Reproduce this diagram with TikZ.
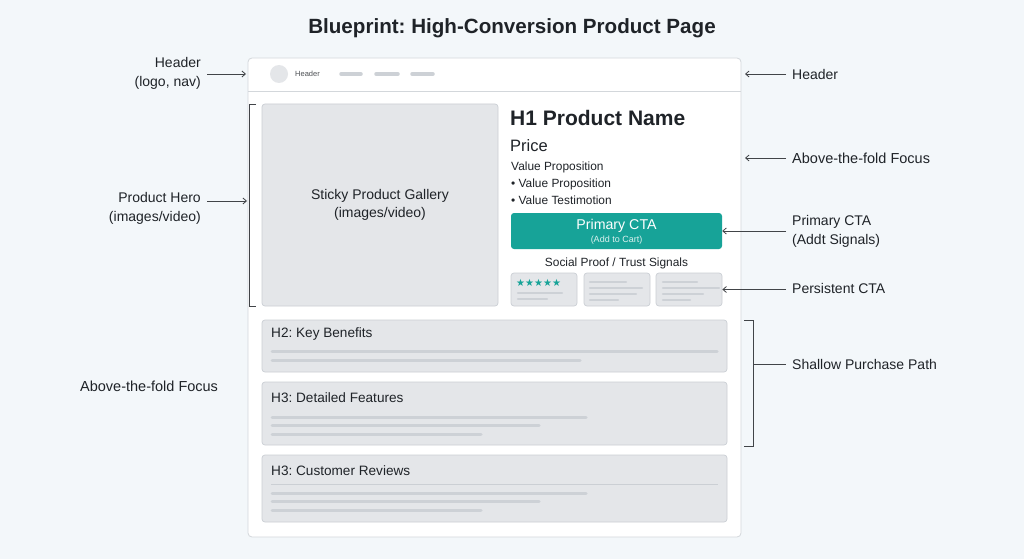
\documentclass[tikz,border=0pt]{standalone}
\usepackage{fontspec}
\setmainfont{Liberation Sans}
\newfontfamily\symfont{DejaVu Sans}
\usetikzlibrary{arrows.meta}
\definecolor{bg}{HTML}{F3F7FA}
\definecolor{ink}{HTML}{1F2328}
\definecolor{framec}{HTML}{D3D7DB}
\definecolor{boxfill}{HTML}{E4E6E9}
\definecolor{boxline}{HTML}{CBCFD4}
\definecolor{barc}{HTML}{CDD1D6}
\definecolor{tealc}{HTML}{17A398}
\newcommand{\fsz}[1]{\fontsize{#1}{#1}\selectfont\baselineskip=1.25\baselineskip}
\frenchspacing
\begin{document}
\begin{tikzpicture}[x=1pt,y=-1pt,
  box/.style={draw=boxline, fill=boxfill, rounded corners=3pt, line width=0.7pt, inner sep=0pt},
  ann/.style={text=ink, font=\fontsize{14}{19}\selectfont, align=left, anchor=west, inner sep=0pt},
  annr/.style={text=ink, font=\fontsize{14}{19}\selectfont, align=right, anchor=east, inner sep=0pt},
  conn/.style={draw=ink!85, line width=0.8pt, -{Straight Barb[length=3.5pt,width=6pt]}},
  plain/.style={draw=ink!85, line width=0.8pt},
  bar/.style={draw=barc, line width=3pt, line cap=round},
  sbar/.style={draw=barc, line width=2.2pt, line cap=round},
  sec/.style={text=ink, font=\fsz{13.6}, anchor=west, inner sep=0pt}]
\fill[bg] (0,0) rectangle (1024,559);
\useasboundingbox (0,0) rectangle (1024,559);

% title
\node[text=ink, font=\bfseries\fsz{20.6}] (title) at (512,28) {Blueprint: High-Conversion Product Page};

% page frame
\node[draw=framec, fill=white, rounded corners=4pt, line width=0.8pt, minimum width=493pt, minimum height=479pt, inner sep=0pt] (page) at (494.5,297.5) {};
\draw[draw=framec, line width=0.8pt] (248,91) -- (741,91);

% header contents
\node[circle, fill=boxfill, minimum size=18pt, inner sep=0pt] (logo) at (279,74) {};
\node[text=ink!80, font=\fsz{7.5}, anchor=west, inner sep=0pt] (hdrtxt) at (295,74) {Header};
\draw[bar, line width=3.5pt] (341,74) -- (361,74);
\draw[bar, line width=3.5pt] (376,74) -- (398,74);
\draw[bar, line width=3.5pt] (412,74) -- (433,74);

% gallery
\node[box, minimum width=236pt, minimum height=202pt, align=center, text=ink, font=\fsz{14}] (gallery) at (380,205) {Sticky Product Gallery\\(images/video)};

% product info
\node[text=ink, font=\bfseries\fsz{21}, anchor=west, inner sep=0pt] (h1) at (510,118) {H1 Product Name};
\node[text=ink, font=\fsz{16.5}, anchor=west, inner sep=0pt] (price) at (510,146) {Price};
\node[text=ink, font=\fsz{11.9}, anchor=west, inner sep=0pt] (vp0) at (511,167.5) {Value Proposition};
\node[text=ink, font=\fsz{11.9}, anchor=west, inner sep=0pt] (vp1) at (511,184) {\textbullet\ Value Proposition};
\node[text=ink, font=\fsz{11.9}, anchor=west, inner sep=0pt] (vp2) at (511,200) {\textbullet\ Value Testimotion};

% CTA
\node[fill=tealc, rounded corners=3pt, minimum width=211pt, minimum height=36pt, inner sep=0pt] (cta) at (616.5,231) {};
\node[text=white, font=\fsz{14.2}, inner sep=0pt] (ctat) at (616.5,226) {Primary CTA};
\node[text=white!85!tealc, font=\fsz{9}, inner sep=0pt] (ctas) at (616.5,240.5) {(Add to Cart)};

\node[text=ink, font=\fsz{11.9}, inner sep=0pt] (social) at (616.5,263.5) {Social Proof / Trust Signals};

% trust cards
\node[box, minimum width=66pt, minimum height=33pt] (c1) at (544,289.5) {};
\node[box, minimum width=66pt, minimum height=33pt] (c2) at (617,289.5) {};
\node[box, minimum width=66pt, minimum height=33pt] (c3) at (689,289.5) {};
\node[text=tealc, font=\symfont\fsz{10}, anchor=west, inner sep=0pt] (stars) at (516,283) {★★★★★};
\draw[sbar] (518,293) -- (562,293);
\draw[sbar] (518,299) -- (547,299);
\draw[sbar] (590,282) -- (626,282);
\draw[sbar] (590,288) -- (642,288);
\draw[sbar] (590,294) -- (636,294);
\draw[sbar] (590,300) -- (618,300);
\draw[sbar] (663,282) -- (697,282);
\draw[sbar] (663,288) -- (719,288);
\draw[sbar] (663,294) -- (703,294);
\draw[sbar] (663,300) -- (690,300);

% sections
\node[box, minimum width=465pt, minimum height=52pt] (s1) at (494.5,346) {};
\node[sec] (s1t) at (271,333.5) {H2: Key Benefits};
\draw[bar] (272,351) -- (717,351);
\draw[bar] (272,360) -- (580,360);

\node[box, minimum width=465pt, minimum height=63pt] (s2) at (494.5,413.5) {};
\node[sec] (s2t) at (271,397.5) {H3: Detailed Features};
\draw[bar] (272,417) -- (586,417);
\draw[bar] (272,425) -- (539,425);
\draw[bar] (272,434) -- (481,434);

\node[box, minimum width=465pt, minimum height=67pt] (s3) at (494.5,488.5) {};
\node[sec] (s3t) at (271,470.5) {H3: Customer Reviews};
\draw[draw=boxline, line width=0.6pt] (271,484) -- (718,484);
\draw[bar] (272,493) -- (586,493);
\draw[bar] (272,501) -- (539,501);
\draw[bar] (272,510) -- (481,510);

% left annotations
\node[annr] (lhead) at (201,73.5) {Header\\(logo, nav)};
\coordinate (lheadend) at (246,74);
\draw[conn] (207,74) -- (lheadend);

\node[annr] (lhero) at (201,208) {Product Hero\\(images/video)};
\coordinate (lheroend) at (247,201);
\draw[conn] (207,201) -- (lheroend);
\coordinate (lbt) at (256,104);
\coordinate (lbb) at (256,306);
\draw[plain] (lbt) -- (249,104) -- (249,306) -- (lbb);

\node[ann, font=\fontsize{14.5}{19}\selectfont] (lfold) at (80,386) {Above-the-fold Focus};

% right annotations
\node[ann] (rhead) at (792,74) {Header};
\coordinate (rheadend) at (745,74);
\draw[conn] (786,74) -- (rheadend);

\node[ann, font=\fontsize{14.5}{19}\selectfont] (rfold) at (792,158) {Above-the-fold Focus};
\coordinate (rfoldend) at (745,158);
\draw[conn] (786,158) -- (rfoldend);

\node[ann] (rcta) at (792,231.5) {Primary CTA\\(Addt Signals)};
\draw[conn] (786,231) -- (cta.east);

\node[ann] (rpers) at (792,288.5) {Persistent CTA};
\draw[conn] (786,289.5) -- (c3.east);

\node[ann] (rpath) at (792,364) {Shallow Purchase Path};
\coordinate (rbt) at (744,320);
\coordinate (rbb) at (744,446);
\draw[plain] (rbt) -- (753,320) -- (753,446) -- (rbb);
\draw[plain] (753,364) -- (786,364);
\end{tikzpicture}
\end{document}
